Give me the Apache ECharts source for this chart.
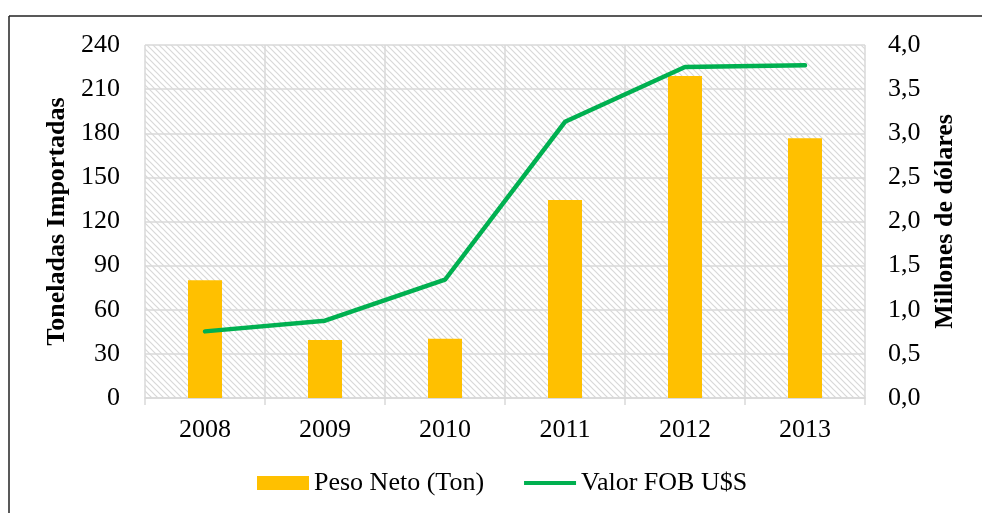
<!DOCTYPE html>
<html>
<head>
<meta charset="utf-8">
<script src="https://cdn.jsdelivr.net/npm/echarts@6/dist/echarts.min.js"></script>
<style>
  html, body { margin: 0; padding: 0; background: #fff; }
  #chart { width: 982px; height: 513px; }
</style>
</head>
<body>
<div id="chart"></div>
<script>
// Imports by year: net weight (tonnes) and FOB value (millions of dollars)
var years = ['2008', '2009', '2010', '2011', '2012', '2013'];
var pesoNeto = [80, 39.5, 40.3, 134.7, 218.9, 176.6];
var valorFOB = [0.755, 0.876, 1.34, 3.13, 3.75, 3.77];
var leftTicks = { min: 0, max: 240, interval: 30 };
var rightTicks = { min: 0, max: 4, interval: 0.5 };

// Diagonal hatch tile for the plot background
function hatchTile() {
  var c = document.createElement('canvas');
  var s = 6;
  c.width = s; c.height = s;
  var ctx = c.getContext('2d');
  ctx.fillStyle = '#ffffff';
  ctx.fillRect(0, 0, s, s);
  ctx.strokeStyle = '#d8d8d8';
  ctx.lineWidth = 1.2;
  ctx.beginPath();
  ctx.moveTo(-1, -1); ctx.lineTo(s + 1, s + 1);
  ctx.moveTo(-1, s - 1); ctx.lineTo(1, s + 1);
  ctx.moveTo(s - 1, -1); ctx.lineTo(s + 1, 1);
  ctx.stroke();
  return c;
}

var serif = '"Liberation Serif", "Times New Roman", serif';
var gridGray = '#d9d9d9';
var fs = 26;
var chart = echarts.init(document.getElementById('chart'), null, { renderer: 'canvas' });

chart.setOption({
  animation: false,
  backgroundColor: '#ffffff',
  textStyle: { fontFamily: serif },
  grid: {
    left: 145, right: 117, top: 45, bottom: 115,
    show: true,
    backgroundColor: { image: hatchTile(), repeat: 'repeat' },
    borderWidth: 0
  },
  graphic: [
    { type: 'line', shape: { x1: 9, y1: 16, x2: 982, y2: 16 }, style: { stroke: '#222', lineWidth: 1.5 }, z: 100 },
    { type: 'line', shape: { x1: 9, y1: 16, x2: 9, y2: 513 }, style: { stroke: '#222', lineWidth: 1.5 }, z: 100 }
  ],
  legend: {
    bottom: 12,
    left: 252,
    itemGap: 40,
    itemWidth: 52,
    itemHeight: 14,
    textStyle: { fontFamily: serif, fontSize: fs, color: '#000' },
    data: [
      { name: 'Peso Neto (Ton)', icon: 'rect' },
      { name: 'Valor FOB U$S', icon: 'path://M0,0 L52,0 L52,4 L0,4 Z' }
    ]
  },
  xAxis: {
    type: 'category',
    data: years,
    boundaryGap: true,
    axisLine: { lineStyle: { color: gridGray, width: 1.5 } },
    axisTick: { show: true, length: 7, lineStyle: { color: gridGray, width: 1.5 } },
    axisLabel: { color: '#000', fontSize: fs, fontFamily: serif, margin: 19 },
    splitLine: { show: true, lineStyle: { color: gridGray, width: 1.5 } }
  },
  yAxis: [
    {
      type: 'value',
      min: leftTicks.min, max: leftTicks.max, interval: leftTicks.interval,
      name: 'Toneladas Importadas',
      nameLocation: 'middle',
      nameGap: 68,
      nameRotate: 90,
      nameTextStyle: { fontFamily: serif, fontSize: fs, fontWeight: 'bold', color: '#000' },
      axisLine: { show: false },
      axisTick: { show: false },
      axisLabel: { color: '#000', fontSize: fs, fontFamily: serif, margin: 25 },
      splitLine: { show: true, lineStyle: { color: gridGray, width: 1.5 } }
    },
    {
      type: 'value',
      position: 'right',
      min: rightTicks.min, max: rightTicks.max, interval: rightTicks.interval,
      name: 'Millones de dólares',
      nameLocation: 'middle',
      nameGap: 67,
      nameRotate: 90,
      nameTextStyle: { fontFamily: serif, fontSize: fs, fontWeight: 'bold', color: '#000' },
      axisLine: { show: false },
      axisTick: { show: false },
      axisLabel: {
        color: '#000', fontSize: fs, fontFamily: serif, margin: 23,
        formatter: function (v) { return v.toFixed(1).replace('.', ','); }
      },
      splitLine: { show: false }
    }
  ],
  series: [
    {
      name: 'Peso Neto (Ton)',
      type: 'bar',
      yAxisIndex: 0,
      barWidth: 34,
      itemStyle: { color: '#FFC000' },
      data: pesoNeto
    },
    {
      name: 'Valor FOB U$S',
      type: 'line',
      yAxisIndex: 1,
      symbol: 'none',
      lineStyle: { color: '#00B050', width: 4.5, cap: 'round' },
      itemStyle: { color: '#00B050' },
      data: valorFOB
    }
  ]
});
</script>
</body>
</html>
